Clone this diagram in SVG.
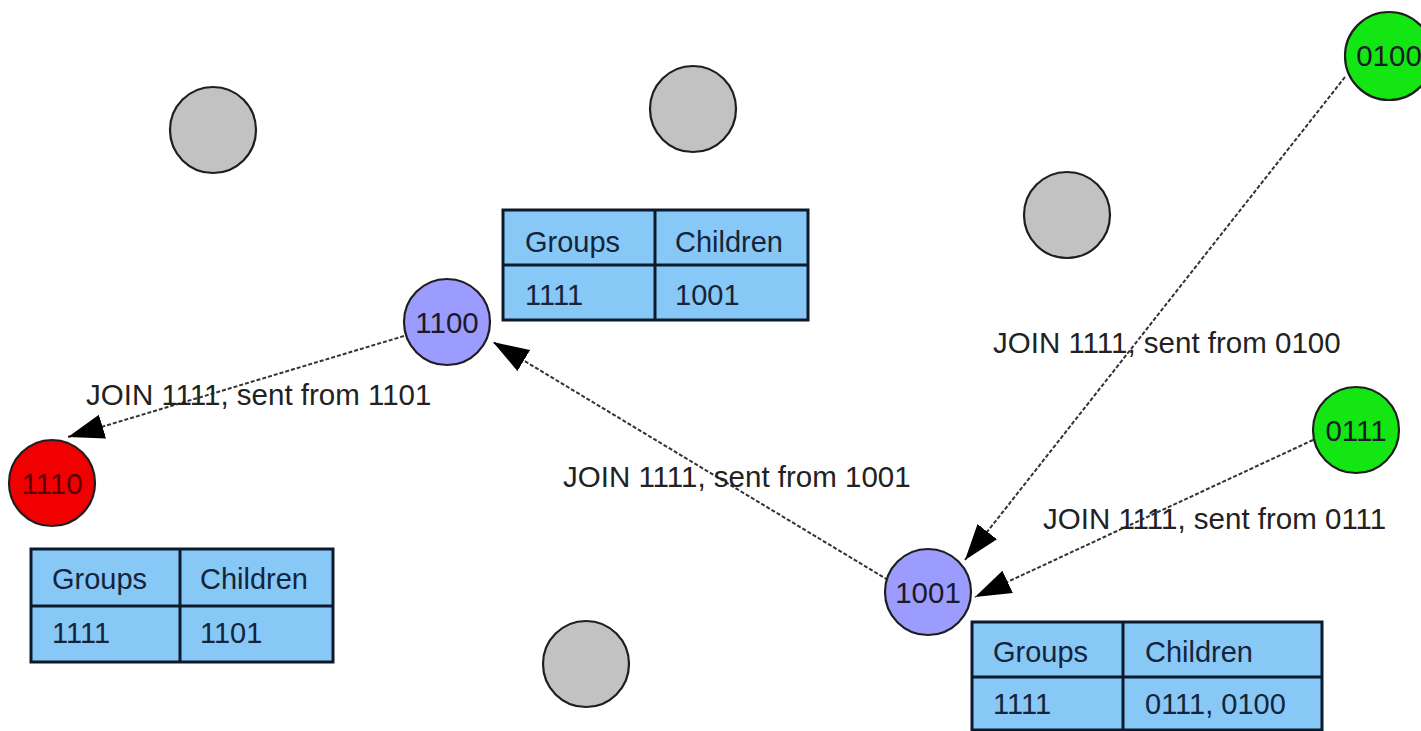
<svg xmlns="http://www.w3.org/2000/svg" width="1421" height="731" viewBox="0 0 1421 731">
  <style>
    text { font-family: "Liberation Sans", Arial, Helvetica, sans-serif; font-size: 29px; }
    .node { stroke: #1e1e1e; stroke-width: 2.2; }
    .idle { fill: #c2c2c2; }
    .relay { fill: #9c9cff; }
    .root { fill: #f00000; }
    .leaf { fill: #14e614; }
    .ntext { fill: #1a1a2a; text-anchor: middle; font-size: 29.5px; }
    .rtext { fill: #5a0000; text-anchor: middle; font-size: 29.5px; }
    .tbl { fill: #88c8f6; stroke: #0c1a2c; stroke-width: 3; }
    .grid { stroke: #0c1a2c; stroke-width: 3; }
    .ttext { fill: #14243a; }
    .edge { fill: none; stroke: #333; stroke-width: 2; stroke-dasharray: 4 2; }
    .label { fill: #222; font-size: 29.5px; }
  </style>
  <defs>
    <marker id="arrow" markerUnits="userSpaceOnUse" markerWidth="36" markerHeight="26" viewBox="0 0 35 24" refX="35" refY="12" orient="auto">
      <path d="M0,0 L35,12 L0,24 z" fill="#000"/>
    </marker>
  </defs>

  <rect width="1421" height="731" fill="#fff"/>

  <!-- connectors -->
  <g id="connectors">
    <line class="edge" x1="404" y1="336" x2="68" y2="437" marker-end="url(#arrow)"/>
    <line class="edge" x1="888" y1="580" x2="493" y2="342" marker-end="url(#arrow)"/>
    <line class="edge" x1="1345" y1="77" x2="965" y2="560" marker-end="url(#arrow)"/>
    <line class="edge" x1="1313" y1="440" x2="975" y2="597" marker-end="url(#arrow)"/>
    <text class="label" x="86" y="405">JOIN 1111, sent from 1101</text>
    <text class="label" x="563" y="487">JOIN 1111, sent from 1001</text>
    <text class="label" x="993" y="353">JOIN 1111, sent from 0100</text>
    <text class="label" x="1043" y="529">JOIN 1111, sent from 0111</text>
  </g>

  <!-- idle nodes -->
  <g id="idle1"><circle class="node idle" cx="213" cy="130" r="43"/></g>
  <g id="idle2"><circle class="node idle" cx="693" cy="109" r="43"/></g>
  <g id="idle3"><circle class="node idle" cx="1067" cy="215" r="43"/></g>
  <g id="idle4"><circle class="node idle" cx="586" cy="664" r="43"/></g>

  <!-- active nodes -->
  <g id="n0100"><circle class="node leaf" cx="1389" cy="56" r="44"/><text class="ntext" x="1389" y="66">0100</text></g>
  <g id="n0111"><circle class="node leaf" cx="1356" cy="430" r="43"/><text class="ntext" x="1356" y="441">0111</text></g>
  <g id="n1001"><circle class="node relay" cx="928" cy="592" r="43"/><text class="ntext" x="928" y="603">1001</text></g>
  <g id="n1100"><circle class="node relay" cx="447" cy="322" r="43"/><text class="ntext" x="447" y="333">1100</text></g>
  <g id="n1110"><circle class="node root" cx="52" cy="483" r="43"/><text class="rtext" x="52" y="494">1110</text></g>

  <!-- routing tables -->
  <g id="table1100">
    <rect class="tbl" x="503" y="210" width="305" height="110"/>
    <line class="grid" x1="503" y1="265" x2="808" y2="265"/>
    <line class="grid" x1="655" y1="210" x2="655" y2="320"/>
    <text class="ttext" x="525" y="252">Groups</text>
    <text class="ttext" x="675" y="252">Children</text>
    <text class="ttext" x="525" y="305">1111</text>
    <text class="ttext" x="675" y="305">1001</text>
  </g>
  <g id="table1110">
    <rect class="tbl" x="31" y="549" width="302" height="113"/>
    <line class="grid" x1="31" y1="606" x2="333" y2="606"/>
    <line class="grid" x1="180" y1="549" x2="180" y2="662"/>
    <text class="ttext" x="52" y="589">Groups</text>
    <text class="ttext" x="200" y="589">Children</text>
    <text class="ttext" x="52" y="643">1111</text>
    <text class="ttext" x="200" y="643">1101</text>
  </g>
  <g id="table1001">
    <rect class="tbl" x="972" y="622" width="350" height="108"/>
    <line class="grid" x1="972" y1="677" x2="1322" y2="677"/>
    <line class="grid" x1="1123" y1="622" x2="1123" y2="730"/>
    <text class="ttext" x="993" y="662">Groups</text>
    <text class="ttext" x="1145" y="662">Children</text>
    <text class="ttext" x="993" y="714">1111</text>
    <text class="ttext" x="1145" y="714">0111, 0100</text>
  </g>
</svg>
